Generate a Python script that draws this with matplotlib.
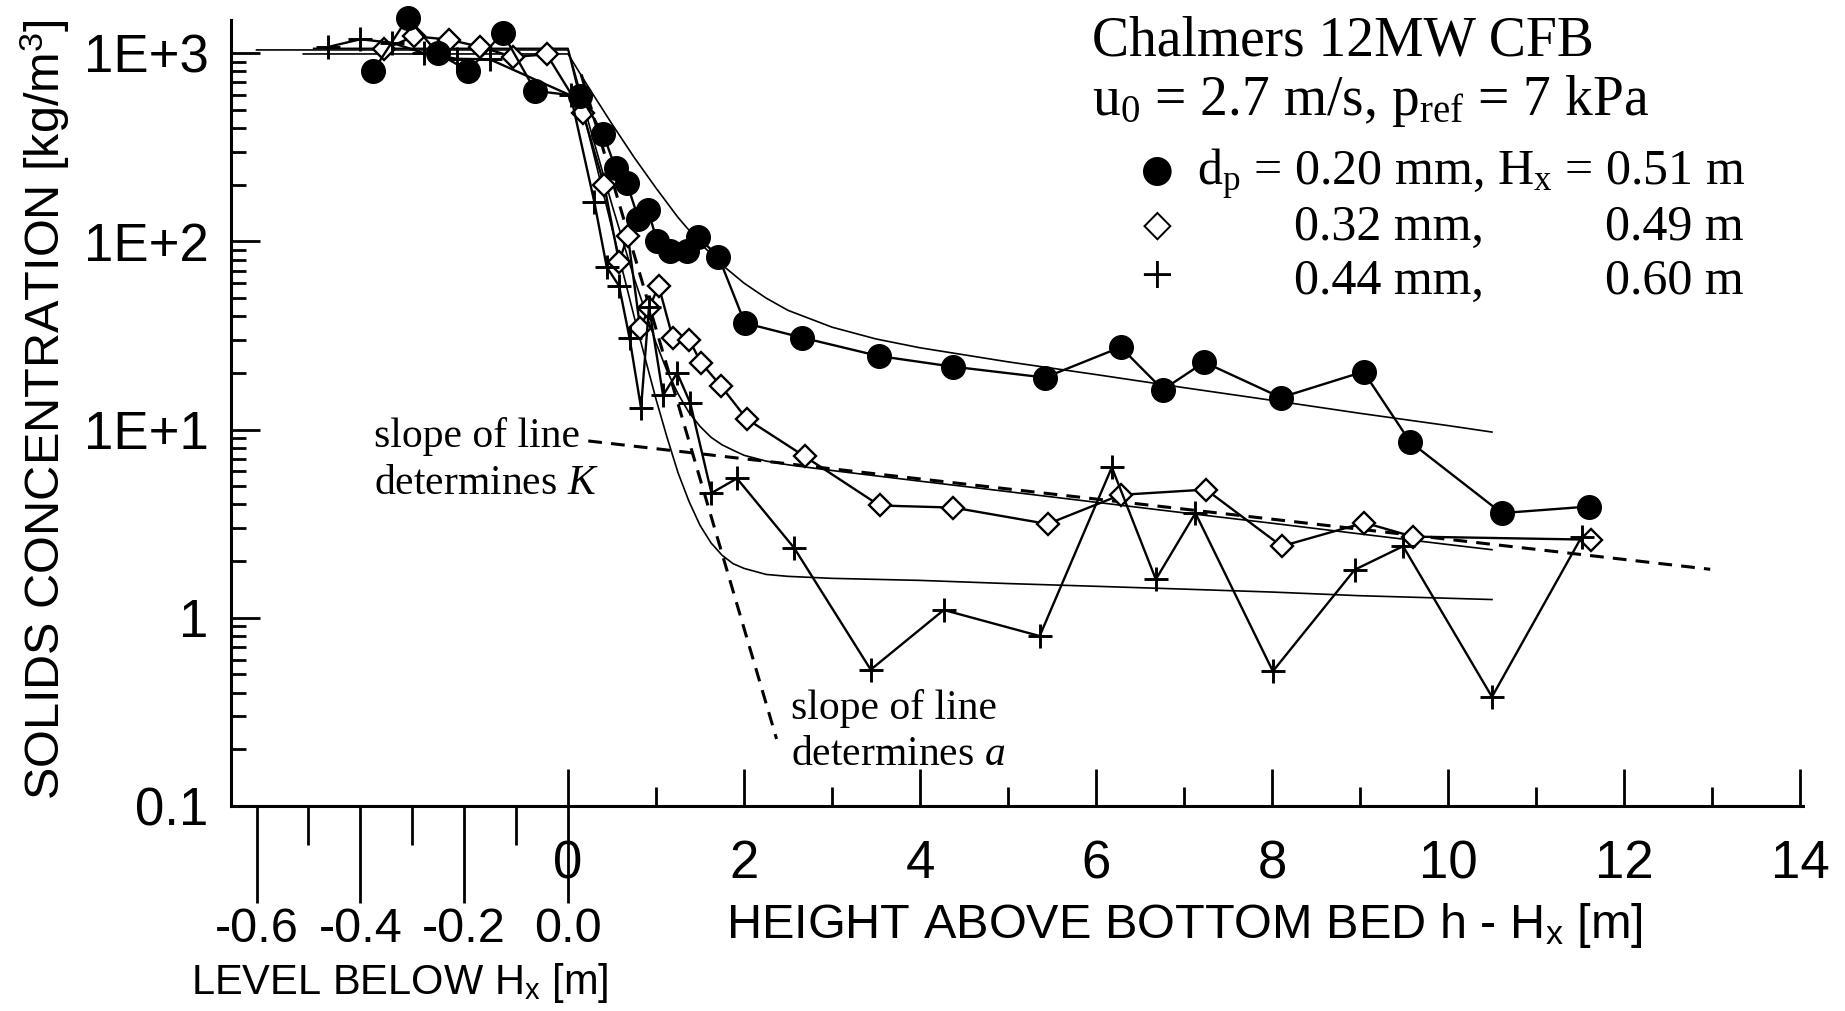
import numpy as np
import matplotlib
matplotlib.use("Agg")
import matplotlib.pyplot as plt

plt.rcParams["font.family"] = ["Liberation Sans", "DejaVu Sans"]
plt.rcParams["mathtext.fontset"] = "custom"
plt.rcParams["mathtext.rm"] = "Liberation Serif"
plt.rcParams["mathtext.it"] = "Liberation Serif:italic"
plt.rcParams["mathtext.sf"] = "Liberation Sans"
SERIF = ["Liberation Serif", "DejaVu Serif"]

# negative heights are levels below Hx (bottom bed), positive heights are h - Hx
# dp = 0.20 mm, Hx = 0.51 m
h_020 = [-0.375, -0.309, -0.251, -0.192, -0.126, -0.063, 0.14, 0.40, 0.54, 0.67,
         0.80, 0.91, 1.01, 1.16, 1.35, 1.48, 1.71, 2.01, 2.66, 3.53, 4.37, 5.42,
         6.28, 6.76, 7.23, 8.10, 9.04, 9.57, 10.61, 11.60]
c_020 = [805, 1540, 1000, 805, 1280, 630, 590, 372, 244, 203,
         132, 146, 101, 89, 89, 105, 83, 36.8, 30.8, 24.6, 21.6, 18.9,
         27.4, 16.3, 22.8, 14.8, 20.3, 8.6, 3.6, 3.9]

# dp = 0.32 mm, Hx = 0.49 m
h_032 = [-0.354, -0.296, -0.230, -0.169, -0.106, -0.041, 0.17, 0.41, 0.58, 0.68,
         0.82, 0.92, 1.03, 1.19, 1.38, 1.51, 1.74, 2.03, 2.69, 3.54, 4.38, 5.45,
         6.28, 7.25, 8.11, 9.05, 9.60, 11.63]
c_032 = [1050, 1230, 1180, 1080, 955, 985, 480, 200, 78, 107,
         34.5, 44, 58, 30.7, 29.9, 22.7, 17.0, 11.4, 7.2, 3.95, 3.85, 3.15,
         4.5, 4.8, 2.4, 3.2, 2.7, 2.6]

# dp = 0.44 mm, Hx = 0.60 m
h_044 = [-0.463, -0.400, -0.339, -0.278, -0.214, -0.151, 0.03, 0.30, 0.44, 0.58,
         0.70, 0.83, 0.92, 1.08, 1.24, 1.39, 1.63, 1.92, 2.57, 3.44, 4.27, 5.36,
         6.18, 6.68, 7.13, 8.01, 8.94, 9.49, 10.50, 11.52]
c_044 = [1077, 1185, 1135, 1000, 933, 928, 596, 161, 73, 58,
         30.5, 13.0, 45, 15.2, 20, 13.8, 4.6, 5.5, 2.35, 0.53, 1.1, 0.8,
         6.3, 1.6, 3.6, 0.52, 1.8, 2.4, 0.38, 2.7]

# model curves (thin lines), first point = bottom of the bed (-Hx)
hm_020 = [-0.51, 0, 0.25, 0.5, 0.75, 1.0, 1.25, 1.5, 1.75, 2.0, 2.25, 2.5, 3.0,
          3.5, 4.0, 5.0, 6.0, 7.0, 8.0, 9.0, 10.0, 10.5]
cm_020 = [990, 990, 640, 420, 280, 192, 134, 98, 75, 60, 50, 43, 35,
          30.3, 27.2, 22.9, 19.6, 16.7, 14.3, 12.2, 10.5, 9.7]
hm_032 = [-0.49, 0, 0.25, 0.5, 0.75, 1.0, 1.125, 1.25, 1.375, 1.5, 1.625, 1.75,
          1.875, 2.0, 2.25, 2.5, 3.0, 4.0, 5.0, 6.0, 7.0, 8.0, 9.0, 10.0, 10.5]
cm_032 = [1060, 1060, 401, 156, 64, 28.9, 20.5, 15.5, 12.3, 10.4, 9.1, 8.3,
          7.77, 7.3, 6.8, 6.5, 6.06, 5.32, 4.68, 4.11, 3.61, 3.18, 2.79, 2.45, 2.30]
hm_044 = [-0.60, 0, 0.25, 0.5, 0.75, 1.0, 1.125, 1.25, 1.375, 1.5, 1.625, 1.75,
          1.875, 2.0, 2.25, 2.5, 3.0, 4.0, 5.0, 6.0, 7.0, 8.0, 9.0, 10.0, 10.5]
cm_044 = [1040, 1040, 348, 117, 40, 14.5, 9.1, 5.9, 4.15, 3.1, 2.5, 2.15,
          1.94, 1.83, 1.70, 1.66, 1.62, 1.58, 1.52, 1.47, 1.42, 1.37, 1.31, 1.27, 1.25]

# construction lines
h_slope_K = [0.23, 12.98]
c_slope_K = [8.7, 1.81]
h_slope_a = [0.15, 2.37]
c_slope_a = [770, 0.227]

BED_SCALE = 5.9   # axis units per metre of bed level


def to_x(h):
    h = np.asarray(h, dtype=float)
    return np.where(h < 0, h * BED_SCALE, h)


W, H = 1845, 1011
fig = plt.figure(figsize=(W / 100, H / 100), dpi=100)
ax = fig.add_axes([231 / W, (H - 806) / H, 1571.6 / W, 786 / H])
ax.set_yscale("log")
ax.set_xlim(-3.83, 14.03)
ax.set_ylim(0.1, 1500)

for sp in ["top", "right"]:
    ax.spines[sp].set_visible(False)
for sp in ["left", "bottom"]:
    ax.spines[sp].set_linewidth(2.2)

# model curves and slope lines
for hm, cm in [(hm_020, cm_020), (hm_032, cm_032), (hm_044, cm_044)]:
    ax.plot(to_x(hm), cm, color="black", lw=1.2, zorder=2)
ax.plot(h_slope_K, c_slope_K, color="black", lw=2.2, dashes=(4.5, 3), zorder=2)
ax.plot(h_slope_a, c_slope_a, color="black", lw=2.2, dashes=(4.5, 3), zorder=2)

# measurements
ax.plot(to_x(h_020), c_020, color="black", lw=1.7, marker="o", ms=17,
        mfc="black", mec="black", zorder=4, clip_on=False)
ax.plot(to_x(h_032), c_032, color="black", lw=1.7, marker="D", ms=11.5,
        mfc="white", mec="black", mew=1.7, zorder=3, clip_on=False)
ax.plot(to_x(h_044), c_044, color="black", lw=1.7, marker="+", ms=17,
        mec="black", mew=2.1, zorder=3, clip_on=False)

# y axis
ax.set_yticks([0.1, 1, 10, 100, 1000], ["0.1", "1", "1E+1", "1E+2", "1E+3"])
ax.yaxis.set_minor_formatter(matplotlib.ticker.NullFormatter())
ax.tick_params(axis="y", which="major", direction="in", length=21, width=2,
               pad=16, labelsize=38)
ax.tick_params(axis="y", which="minor", direction="in", length=11, width=2)

# x axis (height above bottom bed)
ax.set_xticks(range(0, 15, 2), [str(v) for v in range(0, 15, 2)])
ax.set_xticks(range(1, 15, 2), minor=True)
ax.tick_params(axis="x", which="major", direction="in", length=27, width=2,
               pad=24, labelsize=38)
ax.tick_params(axis="x", which="minor", direction="in", length=14, width=2)

# second scale: level below Hx in the bottom bed
sec = ax.secondary_xaxis("bottom", functions=(lambda u: u / BED_SCALE,
                                              lambda m: m * BED_SCALE))
sec.spines["bottom"].set_visible(False)
sec.set_xticks([-0.6, -0.4, -0.2, 0.0], ["-0.6", "-0.4", "-0.2", "0.0"])
sec.set_xticks([-0.5, -0.3, -0.1], minor=True)
sec.xaxis.set_minor_formatter(matplotlib.ticker.NullFormatter())
sec.tick_params(axis="x", which="major", direction="out", length=70, width=2,
                pad=3, labelsize=35)
sec.tick_params(axis="x", which="minor", direction="out", length=28, width=2)

ax.set_xlabel(r"HEIGHT ABOVE BOTTOM BED h - H$_\mathsf{x}$ [m]", fontsize=35)
ax.xaxis.label.set_va("center")
ax.xaxis.set_label_coords(1184 / W, 1 - 926 / H, transform=fig.transFigure)
ax.set_ylabel(r"SOLIDS CONCENTRATION [kg/m$^\mathsf{3}$]", fontsize=35)
ax.yaxis.label.set_va("center")
ax.yaxis.set_label_coords(45 / W, 1 - 410 / H, transform=fig.transFigure)
sec.set_xlabel(r"LEVEL BELOW H$_\mathsf{x}$ [m]", fontsize=30)
sec.xaxis.label.set_va("center")
sec.xaxis.set_label_coords(400 / W, 1 - 983 / H, transform=fig.transFigure)


def ftext(px, py, s, **kw):
    kw.setdefault("family", SERIF)
    kw.setdefault("va", "baseline")
    fig.text(px / W, 1 - py / H, s, **kw)


# header and legend
ftext(1092, 56, "Chalmers 12MW CFB", fontsize=40)
ftext(1092, 115, r"u$_0$ = 2.7 m/s, p$_\mathrm{ref}$ = 7 kPa", fontsize=40)
ftext(1157, 171, "\u25cf", fontsize=27, ha="center", va="center",
      family=["DejaVu Sans"])
ftext(1157, 226, "\u25c7", fontsize=27, ha="center", va="center",
      family=["DejaVu Sans"])
ftext(1157, 280, "+", fontsize=42, ha="center", va="center")
ftext(1197, 185, r"d$_\mathrm{p}$ = 0.20 mm, H$_\mathrm{x}$ = 0.51 m", fontsize=36)
ftext(1294, 240, "0.32 mm,", fontsize=36)
ftext(1744, 240, "0.49 m", fontsize=36, ha="right")
ftext(1294, 294, "0.44 mm,", fontsize=36)
ftext(1744, 294, "0.60 m", fontsize=36, ha="right")

# annotations
ftext(374, 447, "slope of line", fontsize=30)
ftext(374, 494, r"determines $K$", fontsize=30)
ftext(791, 719, "slope of line", fontsize=30)
ftext(791, 765, r"determines $a$", fontsize=30)

fig.savefig("out.png", dpi=100)
